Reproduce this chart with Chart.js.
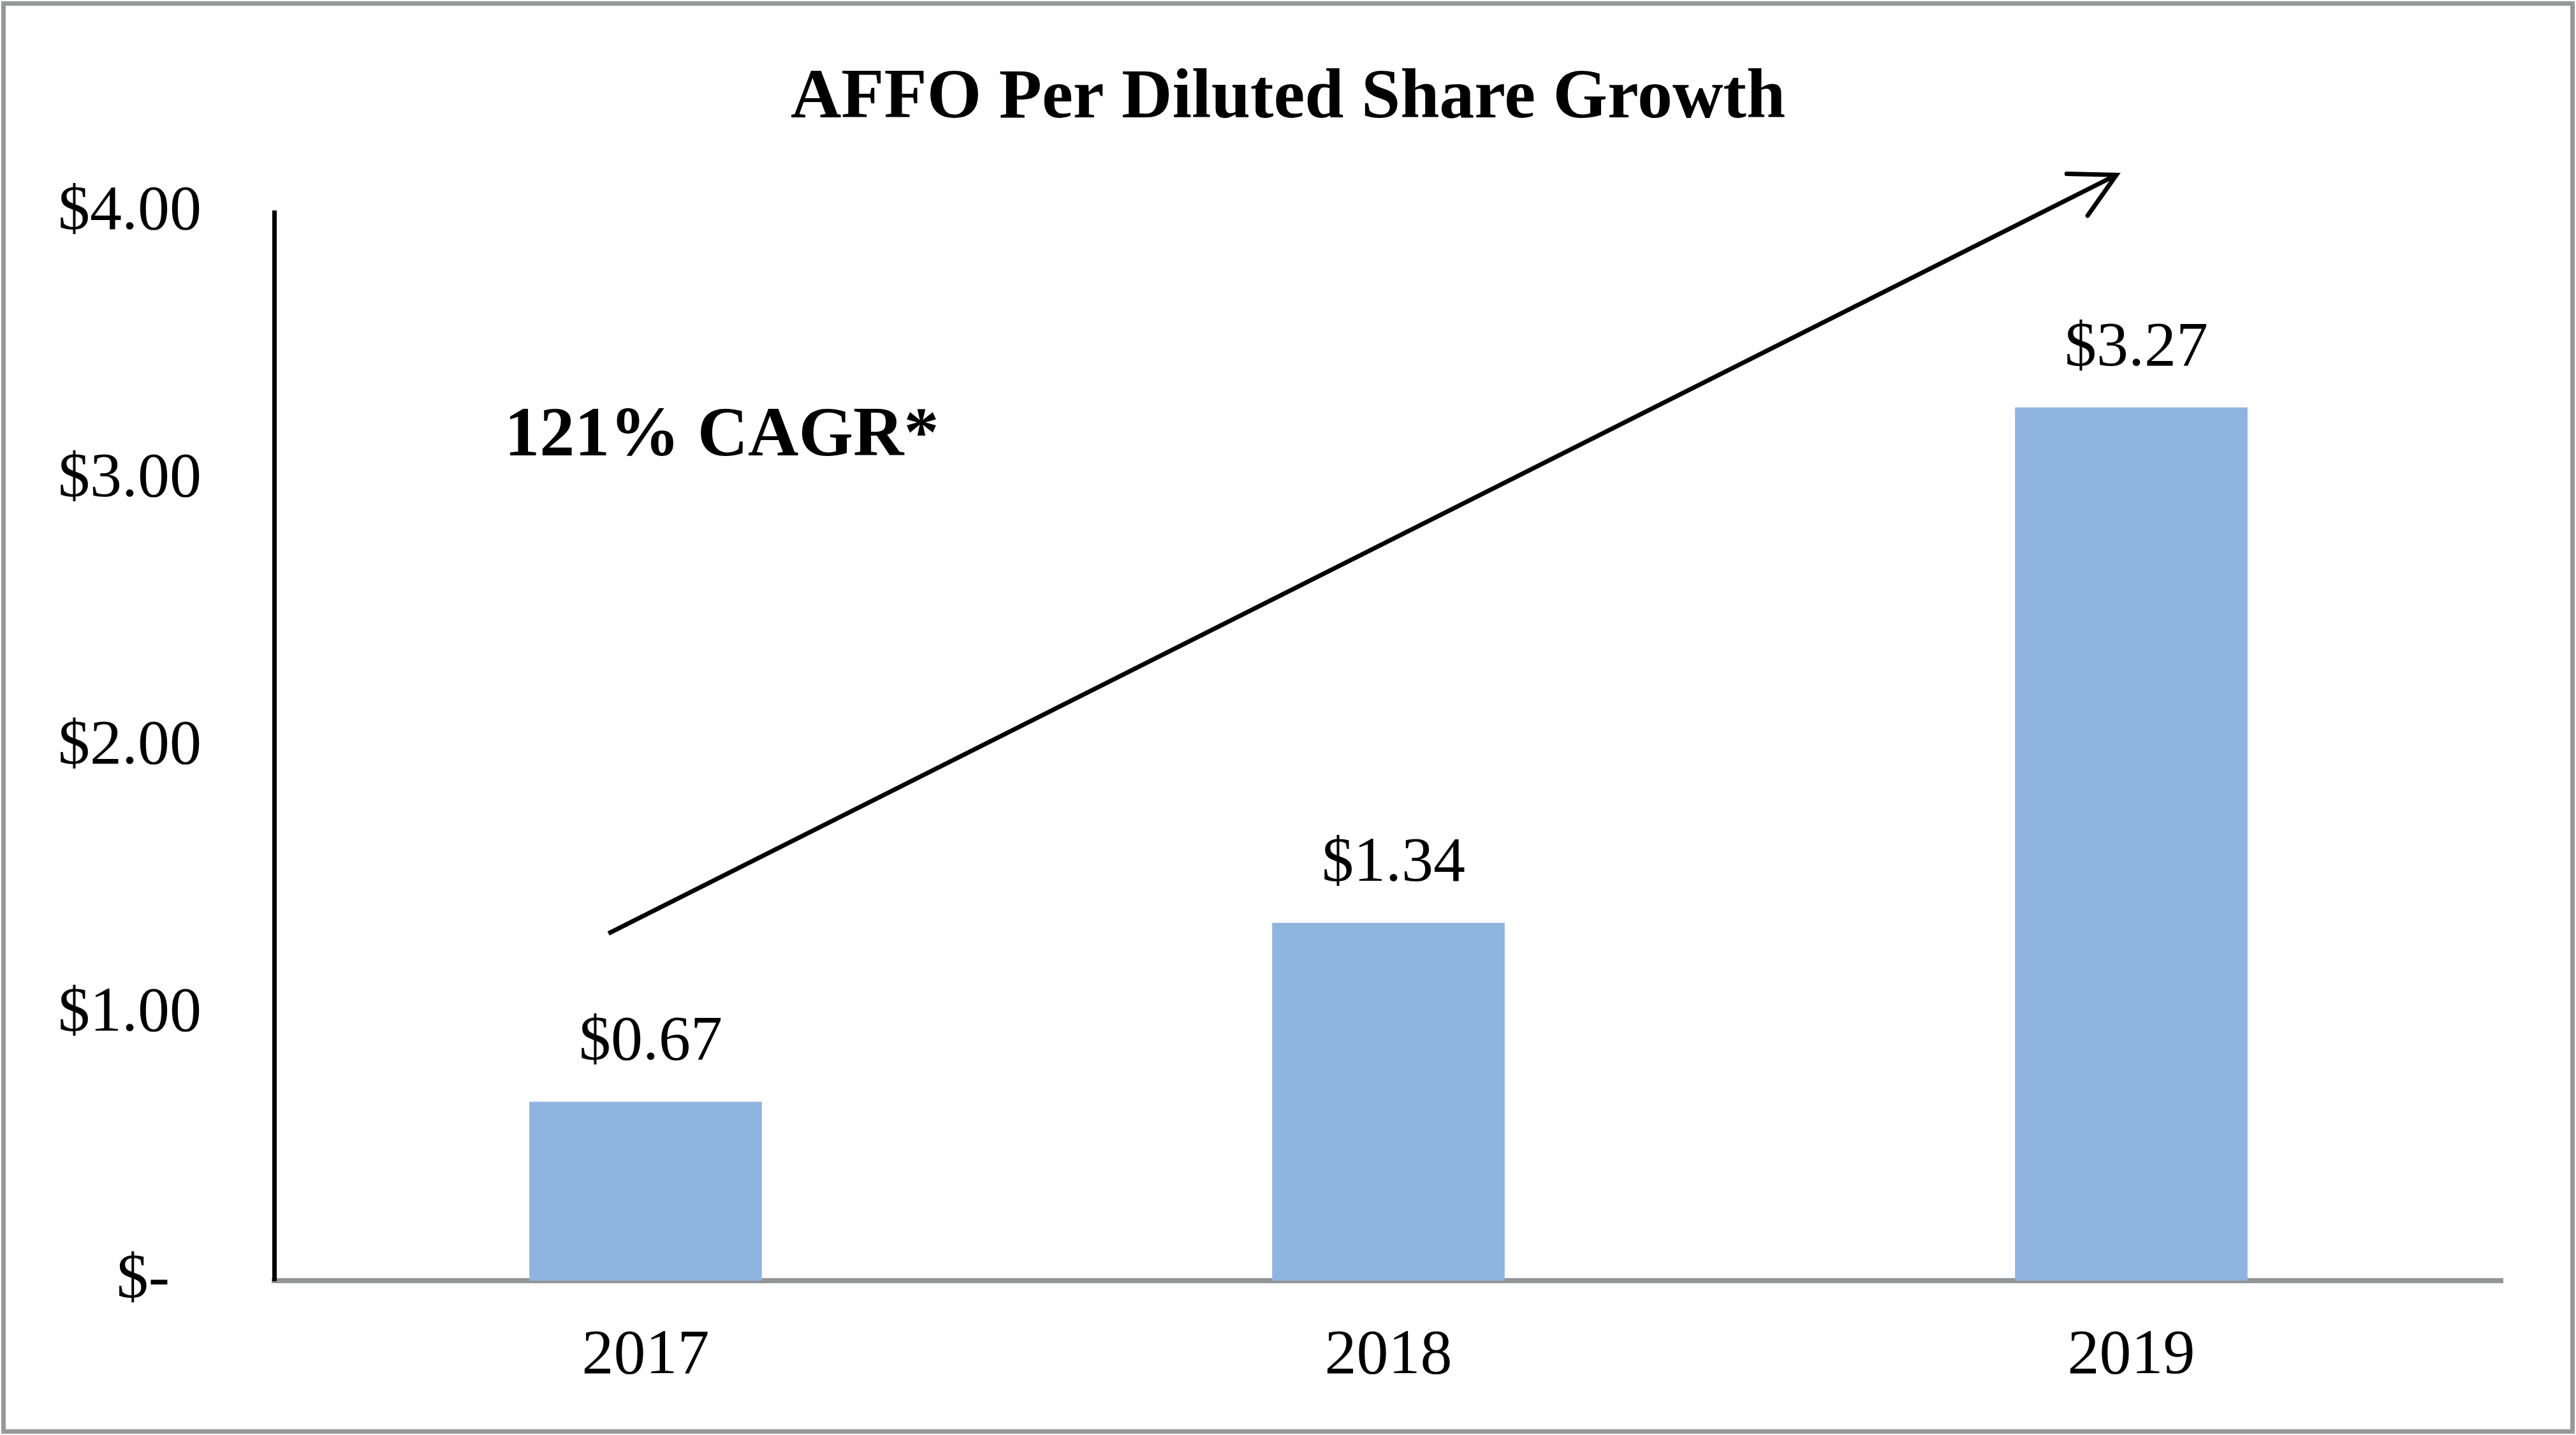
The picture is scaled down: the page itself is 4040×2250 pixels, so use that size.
<!DOCTYPE html>
<html>
<head>
<meta charset="utf-8">
<title>AFFO Per Diluted Share Growth</title>
<script src="https://cdn.jsdelivr.net/npm/chart.js@4/dist/chart.umd.min.js"></script>
<style>
  html, body { margin: 0; padding: 0; background: #fff; }
  #wrap { width: 4040px; height: 2250px; }
</style>
</head>
<body>
<div id="wrap"><canvas id="myChart"></canvas></div>
<script>
// data
const years = ['2017', '2018', '2019'];
const affoPerShare = [0.67, 1.34, 3.27];
const yTickLabels = ['$-', '$1.00', '$2.00', '$3.00', '$4.00'];
const cagrText = '121% CAGR*';
// annotation anchors in data units: [category index, dollars]
const cagrAt = [-0.19, 3.09];
const arrowFrom = [-0.05, 1.30];
const arrowTo = [1.98, 4.14];

const FONT = "'Liberation Serif', 'Times New Roman', serif";

const framePlugin = {
    id: 'frame',
    beforeDraw(chart) {
        const ctx = chart.ctx;
        ctx.save();
        ctx.fillStyle = '#ffffff';
        ctx.fillRect(0, 0, chart.width, chart.height);
        ctx.restore();
    },
    afterDraw(chart) {
        const ctx = chart.ctx;
        ctx.save();
        ctx.strokeStyle = '#97989b';
        ctx.lineWidth = 7;
        ctx.strokeRect(5.5, 5.5, chart.width - 11, chart.height - 11);
        ctx.restore();
    }
};

const barLabels = {
    id: 'barLabels',
    afterDatasetsDraw(chart) {
        const ctx = chart.ctx;
        const meta = chart.getDatasetMeta(0);
        ctx.save();
        ctx.font = '100px ' + FONT;
        ctx.fillStyle = '#000';
        ctx.textAlign = 'center';
        ctx.textBaseline = 'alphabetic';
        meta.data.forEach((bar, i) => {
            ctx.fillText('$' + affoPerShare[i].toFixed(2), bar.x + 8, bar.y - 66);
        });
        ctx.restore();
    }
};

const growthArrow = {
    id: 'growthArrow',
    afterDraw(chart) {
        const x = chart.scales.x, y = chart.scales.y;
        const ctx = chart.ctx;
        const x1 = x.getPixelForValue(arrowFrom[0]), y1 = y.getPixelForValue(arrowFrom[1]);
        const x2 = x.getPixelForValue(arrowTo[0]), y2 = y.getPixelForValue(arrowTo[1]);
        const ang = Math.atan2(y2 - y1, x2 - x1);
        const head = 78, spread = Math.PI * 28 / 180;

        ctx.save();
        ctx.strokeStyle = '#000';
        ctx.lineWidth = 7;
        ctx.lineCap = 'butt';
        ctx.beginPath();
        ctx.moveTo(x1, y1);
        ctx.lineTo(x2 - 4 * Math.cos(ang), y2 - 4 * Math.sin(ang));
        ctx.stroke();

        ctx.lineCap = 'round';
        ctx.lineJoin = 'miter';
        ctx.beginPath();
        ctx.moveTo(x2 - head * Math.cos(ang - spread), y2 - head * Math.sin(ang - spread));
        ctx.lineTo(x2, y2);
        ctx.lineTo(x2 - head * Math.cos(ang + spread), y2 - head * Math.sin(ang + spread));
        ctx.stroke();

        ctx.font = 'bold 110px ' + FONT;
        ctx.fillStyle = '#000';
        ctx.textAlign = 'left';
        ctx.textBaseline = 'alphabetic';
        ctx.fillText(cagrText, x.getPixelForValue(cagrAt[0]), y.getPixelForValue(cagrAt[1]));
        ctx.restore();
    }
};

const ctx = document.getElementById('myChart');

const chart = new Chart(ctx, {
    type: 'bar',
    data: {
        labels: years,
        datasets: [{
            label: 'AFFO Per Diluted Share',
            data: affoPerShare,
            backgroundColor: '#8fb4e0',
            borderWidth: 0,
            barPercentage: 1,
            categoryPercentage: 0.313
        }]
    },
    options: {
        responsive: true,
        maintainAspectRatio: false,
        animation: false,
        devicePixelRatio: 1,
        // equal side padding keeps the title centred on the page
        layout: { padding: { left: 60, right: 60, top: 0, bottom: 0 } },
        plugins: {
            legend: { display: false },
            tooltip: { enabled: false },
            title: {
                display: true,
                text: 'AFFO Per Diluted Share Growth',
                color: '#000',
                font: { family: FONT, size: 110, weight: 'bold', lineHeight: 1 },
                padding: { top: 101, bottom: 122 }
            }
        },
        scales: {
            x: {
                grid: { display: false, drawTicks: false },
                border: { display: true, color: '#939598', width: 8 },
                ticks: {
                    color: '#000',
                    font: { family: FONT, size: 100 },
                    padding: 59
                },
                afterFit(scale) { scale.height = 242; }
            },
            y: {
                min: 0,
                max: 4,
                grid: { display: false, drawTicks: false },
                border: { display: true, color: '#000', width: 7 },
                ticks: {
                    stepSize: 1,
                    color: '#000',
                    font: { family: FONT, size: 100 },
                    padding: 114,
                    callback: (v, i) => (i === 0 ? yTickLabels[i] + '  ' : yTickLabels[i])
                },
                afterFit(scale) { scale.width = 370; }
            },
            // empty right-hand spacer so the plot ends where the reference does
            yRight: {
                position: 'right',
                display: true,
                grid: { display: false, drawTicks: false },
                border: { display: false },
                ticks: { display: false },
                afterFit(scale) { scale.width = 55; }
            }
        }
    },
    plugins: [framePlugin, barLabels, growthArrow]
});
</script>
</body>
</html>
